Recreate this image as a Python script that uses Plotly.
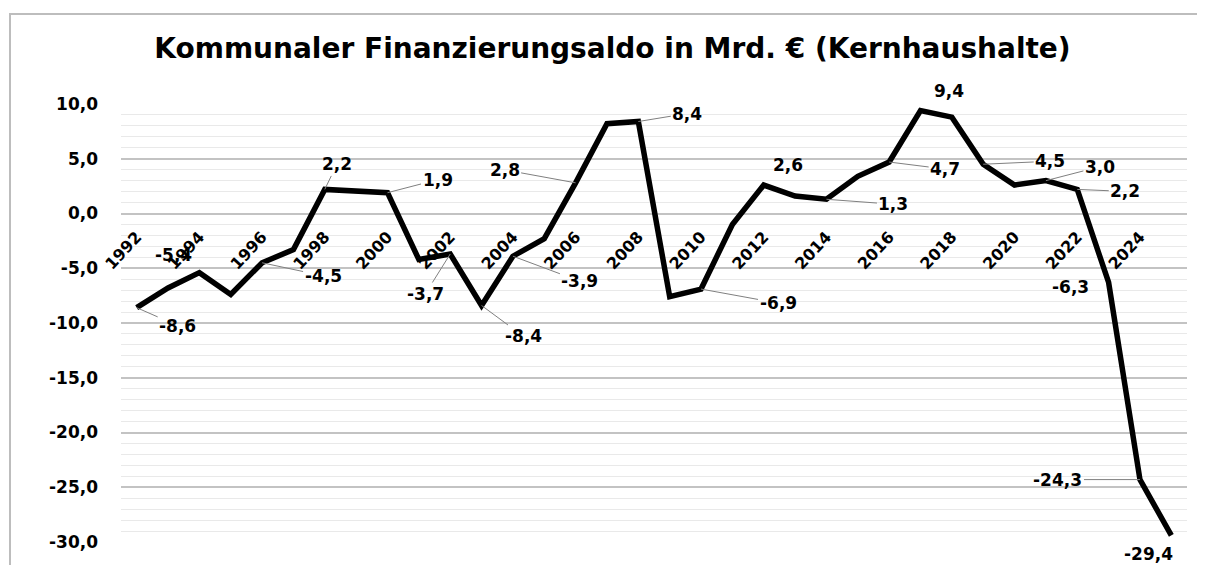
import plotly.graph_objects as go

years = list(range(1992, 2026))
saldo = [-8.6, -6.8, -5.4, -7.4, -4.5, -3.3, 2.2, 2.1, 1.9, -4.2, -3.7, -8.4,
         -3.9, -2.3, 2.8, 8.2, 8.4, -7.6, -6.9, -1.0, 2.6, 1.6, 1.3, 3.4,
         4.7, 9.4, 8.8, 4.5, 2.6, 3.0, 2.2, -6.3, -24.3, -29.4]
labelled_years = [1992, 1994, 1996, 1998, 2000, 2002, 2003, 2004, 2006, 2008,
                  2010, 2012, 2014, 2016, 2017, 2019, 2021, 2022, 2023, 2024, 2025]
year_ticks = list(range(1992, 2025, 2))
y_ticks = [10, 5, 0, -5, -10, -15, -20, -25, -30]

title_text = "Kommunaler Finanzierungsaldo in Mrd. € (Kernhaushalte)"

# label placement (pixel offsets of label centre from the point; leader line shown?)
label_style = {
    1992: (41, 18, True), 1994: (-26, -18, False), 1996: (61, 13, True),
    1998: (12, -25, True), 2000: (50, -13, True), 2002: (-25, 40, True),
    2003: (42, 31, True), 2004: (67, 25, True), 2006: (-71, -13, True),
    2008: (49, -8, True), 2010: (77, 14, True), 2012: (24, -20, False),
    2014: (67, 5, True), 2016: (56, 7, True), 2017: (28, -20, False),
    2019: (67, -3, True), 2021: (54, -14, True), 2022: (48, 2, True),
    2023: (-38, 5, False), 2024: (-82, 0, True), 2025: (-23, 19, False),
}

def de(v):
    return f"{v:.1f}".replace(".", ",")

# page has an 8px body margin; the figure is sized to fill the rest
W, H = 1197, 557
L, R, T, B = 113, 18, 96, 23
FONT = "DejaVu Sans"

fig = go.Figure()
fig.add_trace(go.Scatter(
    x=years, y=saldo, mode="lines",
    line=dict(color="black", width=5.5, shape="linear"),
    hoverinfo="skip", showlegend=False,
))

annotations = []
for yr in labelled_years:
    v = saldo[years.index(yr)]
    ax, ay, arrow = label_style[yr]
    a = dict(x=yr, y=v, xref="x", yref="y", text=de(v),
             font=dict(family=FONT, size=17, color="black", weight="bold"),
             showarrow=True, ax=ax, ay=ay, arrowhead=0, arrowwidth=1,
             arrowcolor="#808080" if arrow else "rgba(0,0,0,0)", standoff=0)
    annotations.append(a)

pw, ph = W - L - R, H - T - B
fig.update_layout(
    width=W, height=H,
    margin=dict(l=L, r=R, t=T, b=B),
    paper_bgcolor="white", plot_bgcolor="white",
    title=dict(text=title_text, x=0.505, xref="container", xanchor="center",
               y=1 - 40 / H, yref="container", yanchor="middle",
               font=dict(family=FONT, size=28, color="black", weight="bold")),
    xaxis=dict(range=[1991.5, 2025.5], tickmode="array", tickvals=year_ticks,
               ticktext=[str(t) for t in year_ticks], tickangle=-47,
               showgrid=False, zeroline=False, showline=False, ticks="",
               anchor="free", position=30 / 40, ticklabelstandoff=10,
               tickfont=dict(family=FONT, size=16, color="black", weight="bold")),
    yaxis=dict(range=[-30, 10], tickmode="array", tickvals=y_ticks,
               ticktext=[de(t) for t in y_ticks],
               showgrid=True, gridcolor="#c3c3c3", gridwidth=1.6,
               zeroline=False, showline=False, ticks="", ticklabelstandoff=22,
               minor=dict(dtick=1, showgrid=True, gridcolor="#e9e9e9", gridwidth=1),
               tickfont=dict(family=FONT, size=17, color="black", weight="bold")),
    annotations=annotations,
    shapes=[dict(type="rect", xref="paper", yref="paper",
                 x0=(2 - L) / pw, x1=(W + 10 - L) / pw,
                 y0=-(B + 10) / ph, y1=(H - 6 - B) / ph,
                 line=dict(color="#bdbdbd", width=2), layer="below")],
)

fig.write_html("out.html")
